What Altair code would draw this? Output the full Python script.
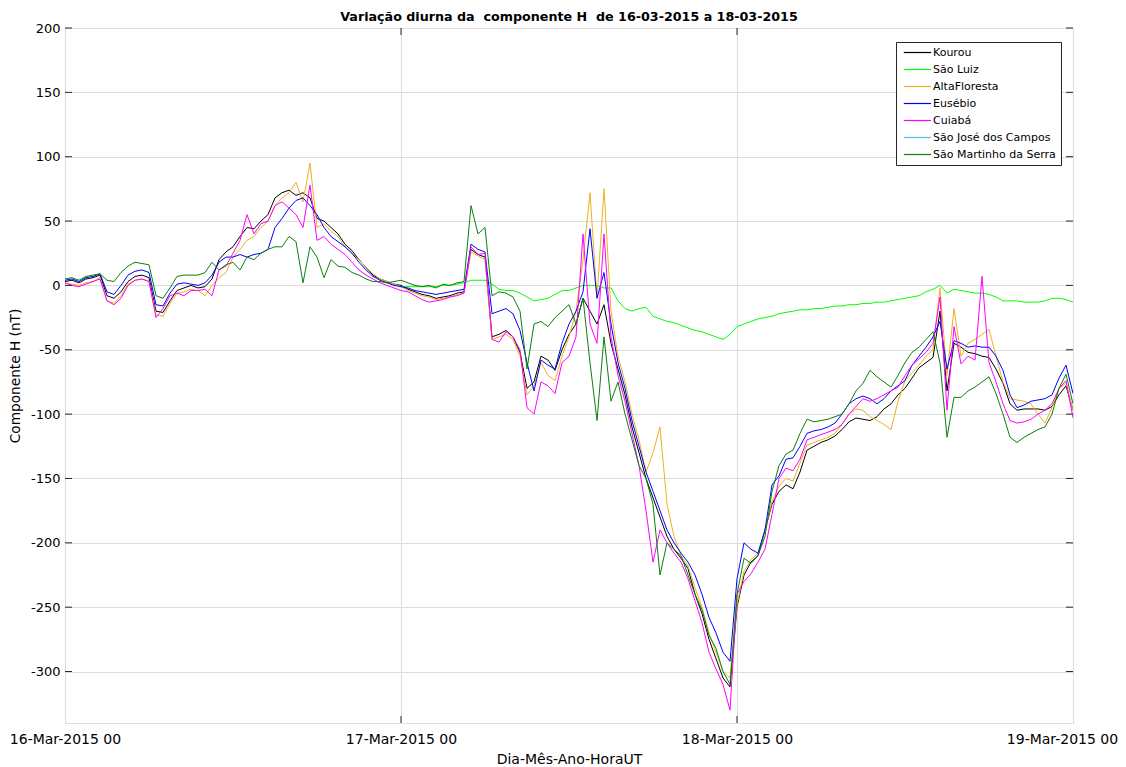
import altair as alt
import pandas as pd

# ---------------- data (half-hour samples, hours since 16-Mar-2015 00 UT) ----------------
hours = [i * 0.5 for i in range(145)]

stations = ["Kourou", "São Luiz", "AltaFloresta", "Eusébio", "Cuiabá",
            "São José dos Campos", "São Martinho da Serra"]
colors = ["#000000", "#00ff00", "#edb120", "#0000ff", "#ff00ff", "#4dbeee", "#0a800a"]

kourou = [
    3, 4, 2, 5, 6, 8, -8, -10, -5, 3, 7, 8,
    6, -20, -21, -12, -4, -2, 0, -2, -1, 5, 20, 26,
    30, 38, 45, 44, 50, 55, 68, 72, 74, 70, 72, 68,
    52, 50, 45, 40, 32, 27, 20, 14, 8, 5, 3, 1,
    0, -3, -5, -7, -8, -10, -9, -8, -6, -5, 28, 24,
    22, -40, -38, -35, -40, -52, -80, -75, -55, -58, -66, -50,
    -38, -30, -10, -20, -30, -15, -45, -65, -85, -110, -130, -150,
    -165, -180, -195, -205, -212, -220, -240, -255, -275, -290, -305, -312,
    -250, -225, -215, -210, -190, -170, -160, -155, -158, -145, -128, -125,
    -122, -120, -117, -112, -106, -103, -104, -105, -102, -96, -92, -85,
    -80, -72, -64, -60, -56, -20, -82, -45, -48, -52, -53, -55,
    -56, -65, -76, -92, -97, -96, -96, -96, -97, -94, -85, -78,
    -97,
]

alta_floresta = [
    2, 1, 0, 2, 3, 6, -12, -14, -8, 1, 4, 5,
    3, -23, -24, -14, -6, -5, -3, -4, -8, 0, 6, 10,
    22, 28, 35, 38, 45, 50, 62, 68, 72, 80, 65, 95,
    45, 48, 42, 38, 30, 25, 20, 14, 9, 5, 3, 1,
    -1, -4, -6, -8, -9, -11, -10, -9, -7, -6, 26, 23,
    20, -42, -40, -38, -42, -55, -85, -78, -60, -70, -74, -55,
    -40, -20, 20, 72, -10, 75, -20, -55, -75, -100, -120, -145,
    -130, -110, -170, -195, -210, -218, -235, -250, -270, -285, -300, -305,
    -248, -222, -213, -208, -190, -168, -156, -150, -152, -138, -124, -122,
    -120, -118, -115, -108, -100, -96, -97, -102, -105, -108, -112, -90,
    -74, -68, -62, -55, -50, -2, -70, -18, -55, -45, -42, -38,
    -34, -55, -75, -88, -89, -90, -92, -100, -107, -95, -80, -76,
    -97,
]

eusebio = [
    4, 5, 3, 6, 7, 9, -5, -7, 0, 8, 11, 12,
    10, -15, -16, -6, 1, 2, 1, 0, 2, 8, 18, 22,
    22, 24, 22, 24, 25, 28, 45, 52, 60, 66, 68, 62,
    55, 45, 38, 34, 30, 25, 18, 12, 7, 4, 2, 0,
    -1, -2, -4, -5, -6, -7, -6, -5, -4, -3, 32, 28,
    26, -22, -20, -18, -22, -35, -60, -82, -58, -62, -65, -45,
    -30, -20, -5, 44, -10, 10, -30, -60, -80, -105, -125, -145,
    -160, -175, -190, -200, -208, -215, -225, -240, -258, -270, -285, -292,
    -228, -200, -205, -208, -190, -155, -148, -135, -134, -125, -115, -113,
    -112, -110, -107, -100, -92, -88, -86, -88, -92, -88, -82, -78,
    -74, -62, -55, -48, -40, -28, -65, -43, -45, -48, -47, -48,
    -48, -55, -66, -85, -95, -93, -90, -89, -88, -85, -72, -62,
    -84,
]

cuiaba = [
    2, 0, -1, 1, 3, 5, -12, -15, -10, 0, 4, 5,
    3, -25, -18, -8, -6, -8, -4, -4, -3, -8, 12, 15,
    25, 35, 55, 40, 48, 50, 62, 65, 60, 55, 45, 78,
    35, 38, 32, 28, 24, 18, 12, 8, 5, 2, 0, -2,
    -4, -5, -8, -11, -13, -12, -11, -9, -8, -6, 30, 24,
    25, -42, -44, -36, -40, -50, -95, -100, -75, -78, -84, -60,
    -55, -40, 40, -30, -45, 40, -40, -70, -90, -115, -140, -175,
    -215, -190, -200, -208, -215, -228, -245, -262, -285, -298, -310, -330,
    -240, -230, -224, -215, -205, -178, -150, -142, -144, -135, -120, -118,
    -116, -114, -112, -108, -100, -94, -88, -90, -88, -85, -82, -79,
    -70, -62, -57, -52, -45, -9, -97, -32, -61, -55, -58, 7,
    -60, -75, -92, -105, -107, -106, -104, -100, -97, -92, -80, -74,
    -103,
]

sao_martinho = [
    5, 6, 4, 7, 8, 9, 4, 3, 10, 15, 18, 17,
    16, -8, -10, -2, 7, 8, 8, 8, 10, 18, 12, 16,
    18, 12, 22, 20, 25, 28, 30, 30, 38, 34, 2, 30,
    22, 6, 20, 15, 14, 10, 8, 5, 3, 3, 2, 3,
    4, 2, 0, -1, 0, -2, 1, 0, 2, 3, 62, 40,
    45, -8, -5, -6, -9, -20, -65, -30, -28, -32, -25, -20,
    -15, -30, -10, -60, -105, -40, -90, -75, -100, -120, -140, -150,
    -170, -225, -200, -205, -210, -225, -240, -252, -272, -282, -300, -310,
    -240, -212, -216, -210, -195, -160, -140, -131, -128, -115, -104, -106,
    -105, -104, -102, -100, -92, -82, -76, -66, -71, -75, -79, -70,
    -60, -52, -48, -42, -36, -60, -118, -87, -87, -82, -79, -75,
    -71, -84, -100, -118, -122, -118, -115, -112, -110, -100, -80, -69,
    -92,
]

# São Luiz only has data from 17-Mar-2015 00 (hour 24) onwards
sao_luiz = [
    -1, -1, -1, -1, -1, -1, 0, 0, 1, 2, 4, 4,
    4, 1, -3, -4, -4, -6, -9, -12, -11, -10, -7, -4,
    -4, -2, 0, 0, 0, -2, -2, -12, -18, -20, -18, -17,
    -24, -26, -28, -29, -31, -33, -35, -36, -38, -40, -42, -38,
    -32, -30, -28, -26, -25, -24, -22, -21, -20, -19, -19, -18,
    -18, -17, -16, -16, -15, -15, -14, -14, -13, -13, -12, -11,
    -10, -9, -8, -5, -3, 0, -6, -3, -4, -5, -6, -6,
    -7, -9, -12, -12, -12, -13, -13, -13, -12, -10, -10, -11,
    -13,
]

x_tick_values = [0, 24, 48, 72]
x_tick_labels = ["16-Mar-2015 00", "17-Mar-2015 00", "18-Mar-2015 00", "19-Mar-2015 00"]
y_tick_values = [-300, -250, -200, -150, -100, -50, 0, 50, 100, 150, 200]

# ---------------- build tables ----------------
series = {
    "Kourou": (hours, kourou),
    "São Luiz": (hours[48:], sao_luiz),
    "AltaFloresta": (hours, alta_floresta),
    "Eusébio": (hours, eusebio),
    "Cuiabá": (hours, cuiaba),
    "São Martinho da Serra": (hours, sao_martinho),
}

W, H = 1008, 695
FONT = "DejaVu Sans"
AXC = "#262626"

x_label_expr = " : ".join(
    f"datum.value == {v} ? '{l}'" for v, l in zip(x_tick_values, x_tick_labels)
) + " : ''"
y_label_expr = "datum.value < 0 ? '-' + (-datum.value) : '' + datum.value"

x_enc = alt.X(
    "h:Q",
    scale=alt.Scale(domain=[0, 72], nice=False, zero=False),
    axis=alt.Axis(
        values=x_tick_values, labelExpr=x_label_expr, title="Dia-Mês-Ano-HoraUT",
        grid=True, ticks=False, domain=False, labelFlush=False, labelPadding=9,
        labelOffset={"condition": {"test": f"datum.value == {x_tick_values[-1]}", "value": -11},
                     "value": 0},
        titlePadding=6, labelFontSize=14, titleFontSize=14,
        titleFontWeight="normal", labelFont=FONT, titleFont=FONT,
    ),
)
y_enc = alt.Y(
    "H:Q",
    scale=alt.Scale(domain=[-340, 200], nice=False, zero=False),
    axis=alt.Axis(
        values=y_tick_values, labelExpr=y_label_expr, title="Componente H (nT)",
        grid=True, ticks=False, domain=False, labelPadding=5, titlePadding=8,
        labelFontSize=13, titleFontSize=13.7, titleFontWeight="normal",
        labelFont=FONT, titleFont=FONT,
    ),
)
color_enc = alt.Color(
    "station:N",
    scale=alt.Scale(domain=stations, range=colors),
    legend=alt.Legend(
        title=None, orient="none", legendX=831, legendY=14,
        symbolType="M-1,0H9", symbolSize=30, symbolStrokeWidth=1.2,
        labelFont=FONT, labelFontSize=11, labelColor="#000000",
        labelOffset=21, rowPadding=5, padding=5,
        strokeColor="#262626", fillColor="#ffffff", cornerRadius=0,
    ),
)

layers = []
for name, (hh, vals) in series.items():
    df = pd.DataFrame({"h": hh, "H": vals, "station": name})
    layers.append(
        alt.Chart(df).mark_line(strokeWidth=1, clip=True).encode(
            x=x_enc, y=y_enc, color=color_enc
        )
    )

# inward tick marks (MATLAB style box ticks)
ytick_df = pd.DataFrame({"H": y_tick_values})
xtick_df = pd.DataFrame({"h": x_tick_values[1:-1]})
tick_layers = [
    alt.Chart(ytick_df).mark_rule(color=AXC, strokeWidth=1).encode(
        y=y_enc, x=alt.value(0), x2=alt.value(7)),
    alt.Chart(ytick_df).mark_rule(color=AXC, strokeWidth=1).encode(
        y=y_enc, x=alt.value(W - 7), x2=alt.value(W)),
    alt.Chart(xtick_df).mark_rule(color=AXC, strokeWidth=1).encode(
        x=x_enc, y=alt.value(H - 7), y2=alt.value(H)),
    alt.Chart(xtick_df).mark_rule(color=AXC, strokeWidth=1).encode(
        x=x_enc, y=alt.value(0), y2=alt.value(7)),
]

chart = alt.layer(*layers, *tick_layers).properties(
    width=W,
    height=H,
    title=alt.TitleParams(
        "Variação diurna da\u00a0 componente H\u00a0 de 16-03-2015 a 18-03-2015",
        font=FONT, fontSize=12.7, fontWeight="bold", color="#000000",
        anchor="middle", offset=7, dy=9, frame="group",
    ),
    autosize=alt.AutoSizeParams(type="none"),
    padding={"left": 57, "top": 20, "right": 45, "bottom": 46},
).configure_view(
    stroke="#4d4d4d", strokeWidth=1
).configure_axis(
    labelColor=AXC, titleColor=AXC, gridColor="#e3e3e3", gridWidth=1,
).configure_title(
    font=FONT
).configure(background="#ffffff")

chart.save("out.html", embed_options={"renderer": "svg", "actions": False})
